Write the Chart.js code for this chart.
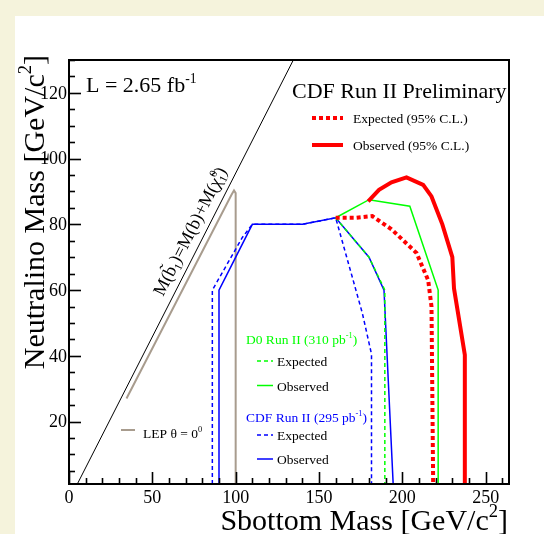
<!DOCTYPE html>
<html><head><meta charset="utf-8">
<script src="https://cdn.jsdelivr.net/npm/chart.js@4/dist/chart.umd.min.js"></script>
<style>html,body{margin:0;padding:0;background:#f5f3dc;}canvas{display:block;}</style>
</head><body>
<canvas id="c" width="544" height="534"></canvas>
<script>
// ---- data (x = sbottom mass, y = neutralino mass, GeV/c^2) ----
const diagX = [5, 134.6];
const diagY = [1, 130];
const lepX = [34.5, 97.5, 99, 100, 100];
const lepY = [27, 89, 90.3, 89.5, 1];
const cdfObsX = [90, 90, 110, 140, 160, 180, 189, 194.5];
const cdfObsY = [1, 60, 80, 80, 82, 70, 60, 1];
const cdfExpX = [86, 86, 104, 110, 140, 160, 176, 181.5, 181.5];
const cdfExpY = [1, 60, 76, 80, 80, 82, 53, 40.5, 1];
const d0ObsX = [160, 180, 204.5, 221.5, 221.5];
const d0ObsY = [82, 87.5, 85.5, 60, 1];
const d0ExpX = [160, 180, 189.5, 189.5];
const d0ExpY = [82, 70, 60, 1];
const newObsX = [179.5, 186, 193.5, 202.5, 212.5, 217.5, 224, 230, 231, 237.5, 237.5];
const newObsY = [87, 90.5, 92.8, 94.3, 92, 88.5, 80, 70, 60.5, 40.3, 1];
const newExpX = [160, 172, 182, 193.5, 208.5, 215.5, 217.5, 218.5];
const newExpY = [82, 82, 82.5, 78.5, 71.3, 63, 55, 1];
const xTickLabels = [0, 50, 100, 150, 200, 250];
const yTickLabels = [20, 40, 60, 80, 100, 120];

const RED = '#ff0000', GREEN = '#00ff00', BLUE = '#0000ff', LEPC = '#a89c8e';
const pts = (xs, ys) => xs.map((x, i) => ({x: x, y: ys[i]}));
function ds(xs, ys, color, width, dash) {
  return {data: pts(xs, ys), borderColor: color, borderWidth: width, borderDash: dash || [],
    showLine: true, pointRadius: 0, fill: false, tension: 0, borderCapStyle: 'butt', borderJoinStyle: 'miter'};
}
const FAM = '"Liberation Serif", "Times New Roman", serif';

function drawRich(ctx, parts, x, y, size, color, align) {
  const small = size * 0.62;
  const fontFor = k => (k === 'n' ? size : small) + 'px ' + FAM;
  const w = p => {
    ctx.font = fontFor(p[1]);
    if (p[1] === 'ss') return Math.max(ctx.measureText(p[0][0]).width, ctx.measureText(p[0][1]).width);
    return ctx.measureText(p[0]).width;
  };
  const total = parts.reduce((a, p) => a + w(p), 0);
  let cx = align === 'right' ? x - total : align === 'center' ? x - total / 2 : x;
  ctx.fillStyle = color; ctx.textAlign = 'left'; ctx.textBaseline = 'alphabetic';
  for (const p of parts) {
    const ww = w(p);
    ctx.font = fontFor(p[1]);
    if (p[1] === 'n') ctx.fillText(p[0], cx, y);
    else if (p[1] === 'sup') ctx.fillText(p[0], cx, y - size * 0.42);
    else if (p[1] === 'sub') ctx.fillText(p[0], cx, y + size * 0.2);
    else { ctx.fillText(p[0][0], cx, y + size * 0.2); ctx.fillText(p[0][1], cx, y - size * 0.42); }
    cx += ww;
  }
}
function sample(ctx, x1, x2, y, color, width, dash) {
  ctx.save(); ctx.strokeStyle = color; ctx.lineWidth = width; ctx.setLineDash(dash || []);
  ctx.beginPath(); ctx.moveTo(x1, y); ctx.lineTo(x2, y); ctx.stroke(); ctx.restore();
}

const decor = {
  id: 'decor',
  beforeDraw(chart) {
    const ctx = chart.ctx;
    ctx.save();
    ctx.fillStyle = '#f5f3dc'; ctx.fillRect(0, 0, 544, 534);
    ctx.fillStyle = '#ffffff'; ctx.fillRect(15, 16, 529, 518);
    ctx.restore();
  },
  afterDraw(chart) {
    const ctx = chart.ctx, a = chart.chartArea, xs = chart.scales.x, ys = chart.scales.y;
    ctx.save();
    // frame
    ctx.strokeStyle = '#000'; ctx.lineWidth = 2;
    ctx.strokeRect(a.left, a.top, a.right - a.left, a.bottom - a.top);
    // ticks
    ctx.lineWidth = 1.6;
    for (let v = 0; v <= xs.max; v += 10) {
      const p = Math.round(xs.getPixelForValue(v)) + 0.5;
      const len = v % 50 === 0 ? 12 : 6;
      ctx.beginPath(); ctx.moveTo(p, a.bottom); ctx.lineTo(p, a.bottom - len); ctx.stroke();
    }
    for (let v = 5; v <= ys.max; v += 5) {
      const p = Math.round(ys.getPixelForValue(v)) + 0.5;
      const len = v % 20 === 0 ? 12 : 6;
      ctx.beginPath(); ctx.moveTo(a.left, p); ctx.lineTo(a.left + len, p); ctx.stroke();
    }
    // tick labels
    ctx.fillStyle = '#000'; ctx.font = '18px ' + FAM;
    ctx.textAlign = 'center'; ctx.textBaseline = 'alphabetic';
    xTickLabels.forEach(v => ctx.fillText(String(v), xs.getPixelForValue(v), 503));
    ctx.textAlign = 'right'; ctx.textBaseline = 'middle';
    yTickLabels.forEach(v => ctx.fillText(String(v), 67, ys.getPixelForValue(v) + 1));
    // axis titles
    drawRich(ctx, [['Sbottom Mass [GeV/c', 'n'], ['2', 'sup'], [']', 'n']], 508, 530, 30, '#000', 'right');
    ctx.save(); ctx.translate(44, 55); ctx.rotate(-Math.PI / 2);
    drawRich(ctx, [['Neutralino Mass [GeV/c', 'n'], ['2', 'sup'], [']', 'n']], 0, 0, 30, '#000', 'right');
    ctx.restore();
    // headline texts
    drawRich(ctx, [['L = 2.65 fb', 'n'], ['-1', 'sup']], 86, 92, 22, '#000', 'left');
    drawRich(ctx, [['CDF Run II Preliminary', 'n']], 292, 98, 22, '#000', 'left');
    // diagonal label
    const ang = Math.atan2(ys.getPixelForValue(diagY[1]) - ys.getPixelForValue(diagY[0]),
                           xs.getPixelForValue(diagX[1]) - xs.getPixelForValue(diagX[0]));
    ctx.save(); ctx.translate(163, 297); ctx.rotate(ang);
    drawRich(ctx, [['M(b\u0303', 'n'], ['1', 'sub'], [')=M(b)+M(\u03c7\u0303', 'n'], [['1', '0'], 'ss'], [')', 'n']], 0, 0, 18, '#000', 'left');
    ctx.restore();
    // main legend
    sample(ctx, 312, 343, 118, RED, 4, [4, 3]);
    drawRich(ctx, [['Expected (95% C.L.)', 'n']], 353, 123, 13.5, '#000', 'left');
    sample(ctx, 312, 343, 145, RED, 4);
    drawRich(ctx, [['Observed (95% C.L.)', 'n']], 353, 150, 13.5, '#000', 'left');
    // D0 legend
    drawRich(ctx, [['D0 Run II (310 pb', 'n'], ['-1', 'sup'], [')', 'n']], 246, 344, 13.5, GREEN, 'left');
    sample(ctx, 257, 273, 361, GREEN, 1.5, [4, 3]);
    drawRich(ctx, [['Expected', 'n']], 277, 366, 13.5, '#000', 'left');
    sample(ctx, 257, 273, 385.5, GREEN, 1.5);
    drawRich(ctx, [['Observed', 'n']], 277, 390.5, 13.5, '#000', 'left');
    // CDF 295 legend
    drawRich(ctx, [['CDF Run II (295 pb', 'n'], ['-1', 'sup'], [')', 'n']], 246, 422, 13.5, BLUE, 'left');
    sample(ctx, 257, 273, 435, BLUE, 1.5, [4, 3]);
    drawRich(ctx, [['Expected', 'n']], 277, 440, 13.5, '#000', 'left');
    sample(ctx, 257, 273, 459, BLUE, 1.5);
    drawRich(ctx, [['Observed', 'n']], 277, 464, 13.5, '#000', 'left');
    // LEP legend
    sample(ctx, 121, 135, 430, LEPC, 2);
    drawRich(ctx, [['LEP \u03b8 = 0', 'n'], ['0', 'sup']], 143, 438, 13.5, '#000', 'left');
    ctx.restore();
  }
};

new Chart(document.getElementById('c'), {
  type: 'scatter',
  data: {datasets: [
    ds(newObsX, newObsY, RED, 4),
    ds(newExpX, newExpY, RED, 4, [4, 3]),
    ds(d0ObsX, d0ObsY, GREEN, 1.5),
    ds(d0ExpX, d0ExpY, GREEN, 1.5, [4, 3]),
    ds(cdfObsX, cdfObsY, BLUE, 1.5),
    ds(cdfExpX, cdfExpY, BLUE, 1.5, [4, 3]),
    ds(lepX, lepY, LEPC, 2),
    ds(diagX, diagY, '#000000', 1)
  ]},
  options: {
    responsive: false, devicePixelRatio: 1, animation: false,
    layout: {padding: {left: 69, right: 35, top: 60, bottom: 50}},
    plugins: {legend: {display: false}, tooltip: {enabled: false}},
    scales: {
      x: {type: 'linear', min: 0, max: 264, display: false},
      y: {type: 'linear', min: 1, max: 130, display: false}
    }
  },
  plugins: [decor]
});
</script>
</body></html>
